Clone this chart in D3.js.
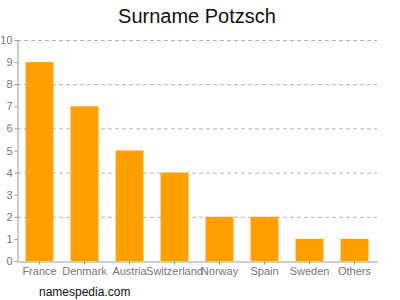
<!DOCTYPE html>
<html>
<head>
<meta charset="utf-8">
<script src="https://cdn.jsdelivr.net/npm/d3@7"></script>
<style>
  body { margin: 0; background: #fff; }
</style>
</head>
<body>
<div id="chart"></div>
<script>
var countries = ["France", "Denmark", "Austria", "Switzerland", "Norway", "Spain", "Sweden", "Others"];
var counts = [9, 7, 5, 4, 2, 2, 1, 1];
var yTicks = [0, 1, 2, 3, 4, 5, 6, 7, 8, 9, 10];
var gridTicks = [2, 4, 6, 8, 10];

var w = 400, h = 300;
var plotLeft = 17, plotRight = 377, plotTop = 40, plotBottom = 261;

var svg = d3.select("#chart")
      .append("svg")
      .attr("width", w)
      .attr("height", h);

var x = d3.scaleBand()
      .domain(countries)
      .range([plotLeft, plotRight])
      .paddingInner(0.38)
      .paddingOuter(0.19);

var y = d3.scaleLinear()
      .domain([0, 10])
      .range([plotBottom, plotTop]);

// grid
svg.selectAll(".grid")
   .data(gridTicks)
   .enter()
   .append("line")
   .attr("class", "grid")
   .attr("x1", plotLeft)
   .attr("x2", plotRight)
   .attr("y1", function(d) { return y(d) + 0.5; })
   .attr("y2", function(d) { return y(d) + 0.5; })
   .attr("stroke", "#b4b4b4")
   .attr("stroke-dasharray", "4,3");

// bars
svg.selectAll(".bar")
   .data(counts)
   .enter()
   .append("rect")
   .attr("class", "bar")
   .attr("x", function(d, i) { return x(countries[i]); })
   .attr("y", function(d) { return y(d); })
   .attr("width", x.bandwidth())
   .attr("height", function(d) { return plotBottom - y(d); })
   .attr("fill", "#ffa000");

// y axis
var yAxis = svg.append("g")
   .attr("transform", "translate(" + (plotLeft + 0.5) + ",0)")
   .call(d3.axisLeft(y).tickValues(yTicks).tickSize(3).tickSizeOuter(0).tickPadding(2));

// x axis
var xAxis = svg.append("g")
   .attr("transform", "translate(0," + (plotBottom + 0.5) + ")")
   .call(d3.axisBottom(x).tickSize(3).tickSizeOuter(0).tickPadding(3));

[yAxis, xAxis].forEach(function(g) {
  g.selectAll("path, line").attr("stroke", "#999");
  g.selectAll("text")
   .attr("fill", "#777")
   .attr("font-family", "Liberation Sans, Arial, sans-serif")
   .attr("font-size", "11px");
});

svg.append("text")
   .text("Surname Potzsch")
   .attr("x", 197)
   .attr("y", 23)
   .attr("text-anchor", "middle")
   .attr("font-family", "Liberation Sans, Arial, sans-serif")
   .attr("font-size", "20px")
   .attr("fill", "#111");

svg.append("text")
   .text("namespedia.com")
   .attr("x", 39)
   .attr("y", 296)
   .attr("font-family", "Liberation Sans, Arial, sans-serif")
   .attr("font-size", "12px")
   .attr("fill", "#111");
</script>
</body>
</html>
